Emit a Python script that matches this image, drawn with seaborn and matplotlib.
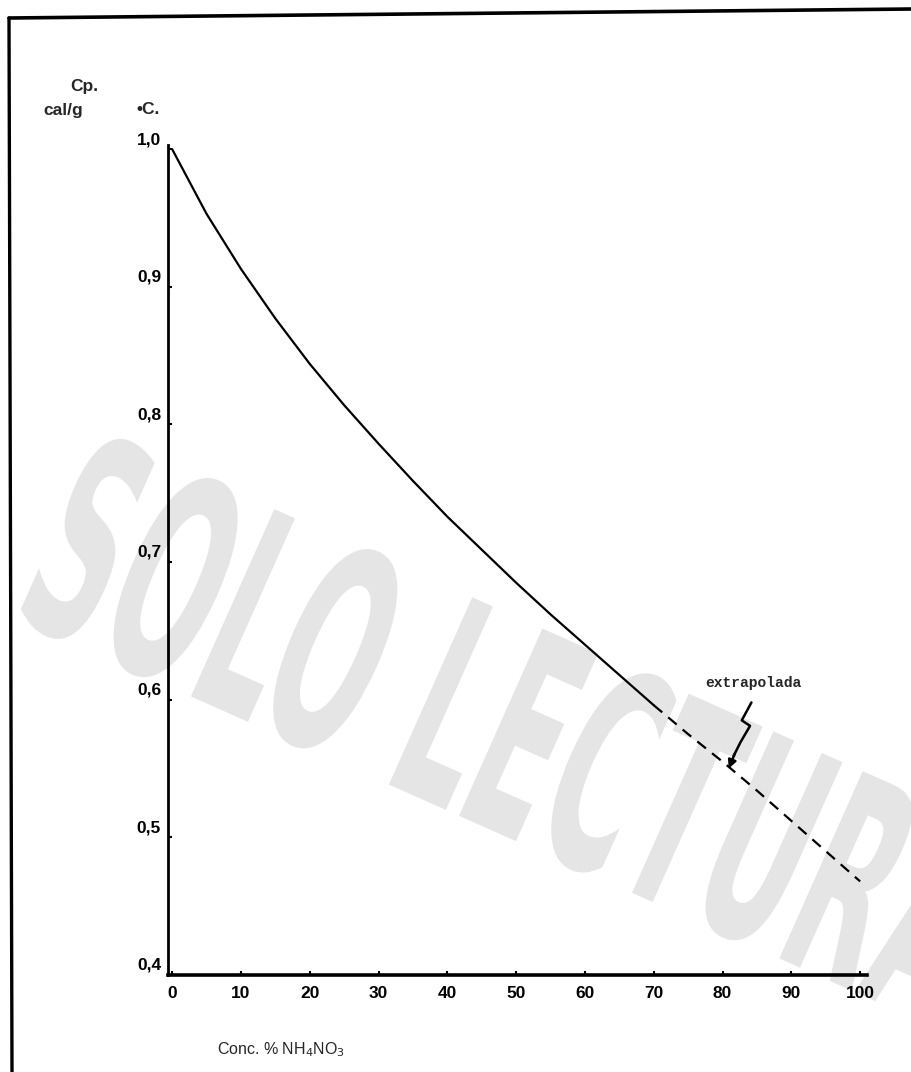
import numpy as np
import matplotlib
matplotlib.use("Agg")
import matplotlib.pyplot as plt
import seaborn as sns
import pandas as pd
from matplotlib.textpath import TextPath
from matplotlib.patches import PathPatch
from matplotlib.font_manager import FontProperties
from matplotlib.transforms import Affine2D, ScaledTranslation
from matplotlib.lines import Line2D

# values
conc_measured = [0, 5, 10, 15, 20, 25, 30, 35, 40, 45, 50, 55, 60, 65, 70]
cp_measured = [1.000, 0.953, 0.913, 0.877, 0.844, 0.814, 0.786, 0.759,
               0.733, 0.709, 0.685, 0.662, 0.640, 0.618, 0.596]
conc_extrap = [70, 75, 80, 85, 90, 95, 100]
cp_extrap = [0.596, 0.575, 0.555, 0.534, 0.512, 0.490, 0.468]

x_ticks = [0, 10, 20, 30, 40, 50, 60, 70, 80, 90, 100]
y_ticks = [0.4, 0.5, 0.6, 0.7, 0.8, 0.9, 1.0]
y_tick_labels = ["0,4", "0,5", "0,6", "0,7", "0,8", "0,9", "1,0"]

sns.set_theme(style="ticks")
plt.rcParams['font.family'] = ['Liberation Sans', 'DejaVu Sans']

W, H = 912, 1072
fig = plt.figure(figsize=(W / 100, H / 100), dpi=100)
fig.patch.set_facecolor('white')
ax = fig.add_axes([168 / W, 1 - 975 / H, 699 / W, 830 / H])
ax.patch.set_visible(False)

# watermark "SOLO LECTURA" (light grey, behind everything)
wm_font = FontProperties(family="DejaVu Sans", weight="bold")
tp = TextPath((0, 0), "SOLO LECTURA", size=100, prop=wm_font)
cap = TextPath((0, 0), "L", size=100, prop=wm_font).get_extents().height
ang = np.deg2rad(-24)
sx = 1010 / tp.get_extents().width
sy = 205 / cap
d = np.array([np.cos(ang), np.sin(ang)])
e = np.array([-np.sin(ang), np.cos(ang)])
M = np.array([[d[0] * sx, e[0] * sy, 8],
              [d[1] * sx, e[1] * sy, H - 615],
              [0, 0, 1]])
wm = PathPatch(tp, transform=Affine2D(M), facecolor='#e5e5e5',
               edgecolor='none', zorder=-5)
fig.add_artist(wm)

# curve: measured part solid, extrapolated part dashed
df_m = pd.DataFrame({'conc': conc_measured, 'cp': cp_measured})
df_e = pd.DataFrame({'conc': conc_extrap, 'cp': cp_extrap})
sns.lineplot(data=df_m, x='conc', y='cp', ax=ax, color='black', lw=1.6)
sns.lineplot(data=df_e, x='conc', y='cp', ax=ax, color='black', lw=1.6,
             linestyle=(0, (5, 3.5)))

ax.set_xlim(-0.6, 101)
ax.set_ylim(0.4, 1.003)
ax.set_xticks(x_ticks)
ax.set_xticklabels([str(t) for t in x_ticks])
ax.set_yticks(y_ticks)
ax.set_yticklabels(y_tick_labels)
ax.tick_params(axis='both', direction='in', length=3, width=1.5, color='black',
               labelsize=12.5, labelcolor='black')
ax.tick_params(axis='x', pad=8)
ax.tick_params(axis='y', pad=5)
for lab in ax.get_xticklabels() + ax.get_yticklabels():
    lab.set_fontweight('bold')
offset = ScaledTranslation(0, 8 / 72, fig.dpi_scale_trans)
for lab in ax.get_yticklabels():
    lab.set_transform(lab.get_transform() + offset)

sns.despine(ax=ax)
ax.spines['left'].set_linewidth(2.0)
ax.spines['bottom'].set_linewidth(2.6)
ax.spines['left'].set_color('black')
ax.spines['bottom'].set_color('black')
ax.set_xlabel('')
ax.set_ylabel('')

# axis titles
fig.text(84 / W, 1 - 87 / H, 'Cp.', ha='center', va='center',
         fontsize=12.5, fontweight='bold')
fig.text(63 / W, 1 - 110 / H, 'cal/g', ha='center', va='center',
         fontsize=12.5, fontweight='bold')
fig.text(148 / W, 1 - 110 / H, '•C.', ha='center', va='center',
         fontsize=12.5, fontweight='bold')
fig.text(217 / W, 1 - 1050 / H, r'Conc. % NH$_4$NO$_3$', ha='left',
         va='center', fontsize=11.5)

# annotation with zigzag arrow
ax.text(84.5, 0.612, 'extrapolada', ha='center', va='center',
        fontsize=10.5, fontweight='bold',
        family=['Liberation Mono', 'DejaVu Sans Mono'])
zig_x = [84.2, 82.8, 84.0, 82.6, 81.6]
zig_y = [0.598, 0.585, 0.581, 0.569, 0.559]
ax.plot(zig_x, zig_y, color='black', lw=1.8, solid_capstyle='round')
ax.annotate('', xy=(80.9, 0.550), xytext=(81.8, 0.561),
            arrowprops=dict(arrowstyle='-|>', color='black', lw=1.8,
                            mutation_scale=12, shrinkA=0, shrinkB=0))

# scan frame
fig.add_artist(Line2D([9 / W, 12 / W], [1 - 18 / H, 0], color='black', lw=2.4))
fig.add_artist(Line2D([9 / W, 1], [1 - 18 / H, 1 - 9 / H], color='black', lw=2.6))

fig.savefig('out.png', dpi=100, facecolor='white')
